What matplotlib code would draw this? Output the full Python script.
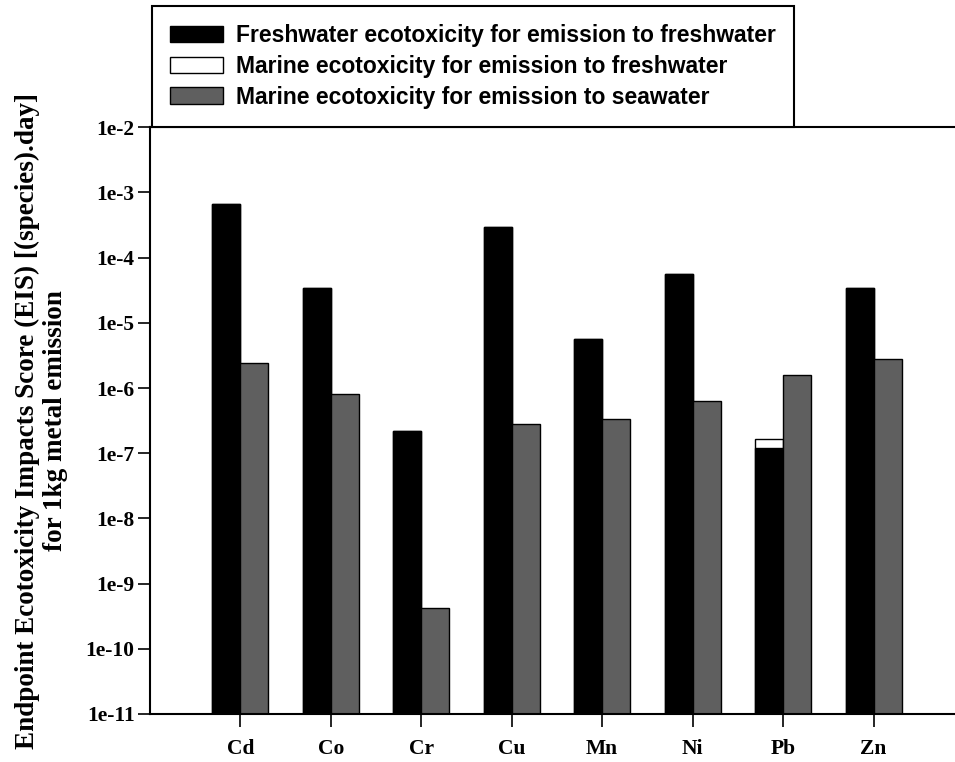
import numpy as np
import matplotlib.pyplot as plt

# values
metals = ["Cd", "Co", "Cr", "Cu", "Mn", "Ni", "Pb", "Zn"]
fresh_fw = [6.6e-4, 3.4e-5, 2.2e-7, 3.0e-4, 5.6e-6, 5.6e-5, 1.19e-7, 3.4e-5]
marine_fw = [6.6e-4, 3.4e-5, 2.2e-7, 3.0e-4, 5.6e-6, 5.6e-5, 1.68e-7, 3.4e-5]
marine_sw = [2.45e-6, 8.0e-7, 4.3e-10, 2.85e-7, 3.3e-7, 6.3e-7, 1.57e-6, 2.77e-6]

labels = ["Freshwater ecotoxicity for emission to freshwater",
          "Marine ecotoxicity for emission to freshwater",
          "Marine ecotoxicity for emission to seawater"]

serif = "Liberation Serif"
sans = "Liberation Sans"

x = np.arange(1, len(metals) + 1)
w = 0.31
floor = 1e-12

fig = plt.figure(figsize=(9.55, 7.62), dpi=100)
ax = fig.add_axes([0.157, 0.063, 0.843, 0.770])

b_white = ax.bar(x, np.array(marine_fw) - floor, bottom=floor, width=-w, align="edge",
                 color="white", edgecolor="black", linewidth=1)
b_black = ax.bar(x, np.array(fresh_fw) - floor, bottom=floor, width=-w, align="edge",
                 color="black", edgecolor="black", linewidth=1)
b_gray = ax.bar(x, np.array(marine_sw) - floor, bottom=floor, width=w, align="edge",
                color="#5f5f5f", edgecolor="black", linewidth=1)

ax.set_yscale("log")
ax.set_ylim(1e-11, 1e-2)
ax.set_xlim(0, 8.9)

yt = [10.0 ** -k for k in range(2, 12)]
ax.set_yticks(yt)
ax.set_yticklabels(["1e-%d" % k for k in range(2, 12)], fontfamily=serif,
                   fontweight="bold", fontsize=15.5)
ax.minorticks_off()
ax.set_xticks(x)
ax.set_xticklabels(metals, fontfamily=serif, fontweight="bold", fontsize=15.5)
ax.tick_params(axis="both", direction="out", length=9, width=1.2)
ax.tick_params(axis="y", pad=2)
ax.tick_params(axis="x", pad=9)

for s in ["left", "bottom", "top"]:
    ax.spines[s].set_linewidth(1.5)
ax.spines["right"].set_visible(False)

ax.set_ylabel("Endpoint Ecotoxicity Impacts Score (EIS) [(species).day]\nfor 1kg metal emission",
              fontfamily=serif, fontweight="bold", fontsize=19.5, linespacing=1.15)
ax.yaxis.set_label_coords(-0.102, 0.5)

leg = fig.legend([b_black, b_white, b_gray], labels,
                 loc="lower left", bbox_to_anchor=(0.159, 0.8333),
                 prop={"family": sans, "weight": "bold", "size": 16.5},
                 fancybox=False, edgecolor="black", framealpha=1,
                 handlelength=2.3, handleheight=0.74, handletextpad=0.57,
                 labelspacing=0.34, borderpad=0.8, borderaxespad=0)
leg.get_frame().set_linewidth(1.5)

fig.savefig("out.png", dpi=100)
